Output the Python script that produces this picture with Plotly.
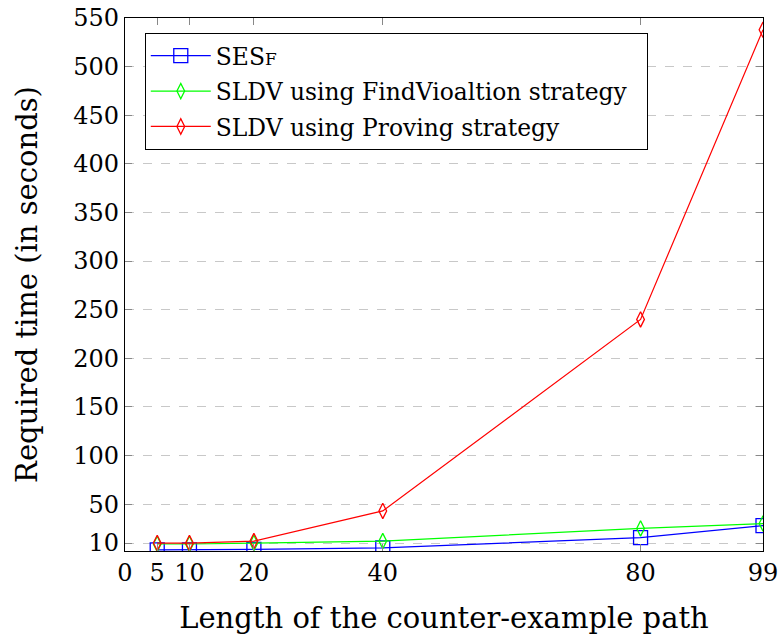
import plotly.graph_objects as go

path_length = [5, 10, 20, 40, 80, 99]
sesf_time = [3, 3, 3.5, 5, 15.5, 28]
findviolation_time = [9, 9, 10, 12, 25, 30]
proving_time = [10, 10, 12, 43, 240, 538]

x_ticks = [0, 5, 10, 20, 40, 80, 99]
y_ticks = [10, 50, 100, 150, 200, 250, 300, 350, 400, 450, 500, 550]

FONT = "'DejaVu Serif', serif"

fig = go.Figure()
fig.add_trace(go.Scatter(
    x=path_length, y=sesf_time, mode="lines+markers", legendgroup="a",
    name="SES<span style='font-size:17px'>F</span>",
    line=dict(color="#0000ff", width=1.2),
    marker=dict(symbol="square-open", size=14, color="#0000ff", line=dict(width=1.3))))
fig.add_trace(go.Scatter(
    x=path_length, y=findviolation_time, mode="lines+markers", legendgroup="b",
    name="SLDV using FindVioaltion strategy\u00a0\u00a0",
    line=dict(color="#00ff00", width=1.2),
    marker=dict(symbol="diamond-tall-open", size=11, color="#00ff00", line=dict(width=1.3))))
fig.add_trace(go.Scatter(
    x=path_length, y=proving_time, mode="lines+markers", legendgroup="c",
    name="SLDV using Proving strategy",
    line=dict(color="#ff0000", width=1.2),
    marker=dict(symbol="diamond-tall-open", size=11, color="#ff0000", line=dict(width=1.3))))

fig.update_layout(
    width=780, height=637,
    margin=dict(l=125, r=17, t=18, b=86),
    plot_bgcolor="white", paper_bgcolor="white",
    font=dict(family=FONT, size=24, color="black"),
    showlegend=True,
    legend=dict(x=0.031, y=0.972, xanchor="left", yanchor="top",
                bgcolor="white", bordercolor="black", borderwidth=1,
                font=dict(family=FONT, size=23.4), tracegroupgap=2,
                traceorder="grouped", itemwidth=60),
)
fig.update_xaxes(
    range=[0, 99], tickvals=x_ticks, ticktext=[str(v) for v in x_ticks],
    showline=True, linecolor="black", linewidth=1.2, mirror="ticks",
    ticks="inside", ticklen=7, tickcolor="#888", showgrid=False, zeroline=False,
    automargin=False, ticklabeloverflow="allow",
    title=dict(text="Length of the counter-example path", standoff=21),
)
fig.update_yaxes(
    range=[1.8, 550], tickvals=y_ticks, ticktext=[str(v) for v in y_ticks],
    showline=True, linecolor="black", linewidth=1.2, mirror="ticks",
    ticks="inside", ticklen=7, tickcolor="#888",
    showgrid=True, gridcolor="#c8c8c8", griddash="dash", gridwidth=1.2, zeroline=False,
    automargin=False, ticklabeloverflow="allow",
    title=dict(text="Required time (in seconds)", standoff=27),
)

fig.write_html("out.html", config={"displayModeBar": False},
               post_script="document.body.style.margin='0px';document.body.style.overflow='hidden';")
